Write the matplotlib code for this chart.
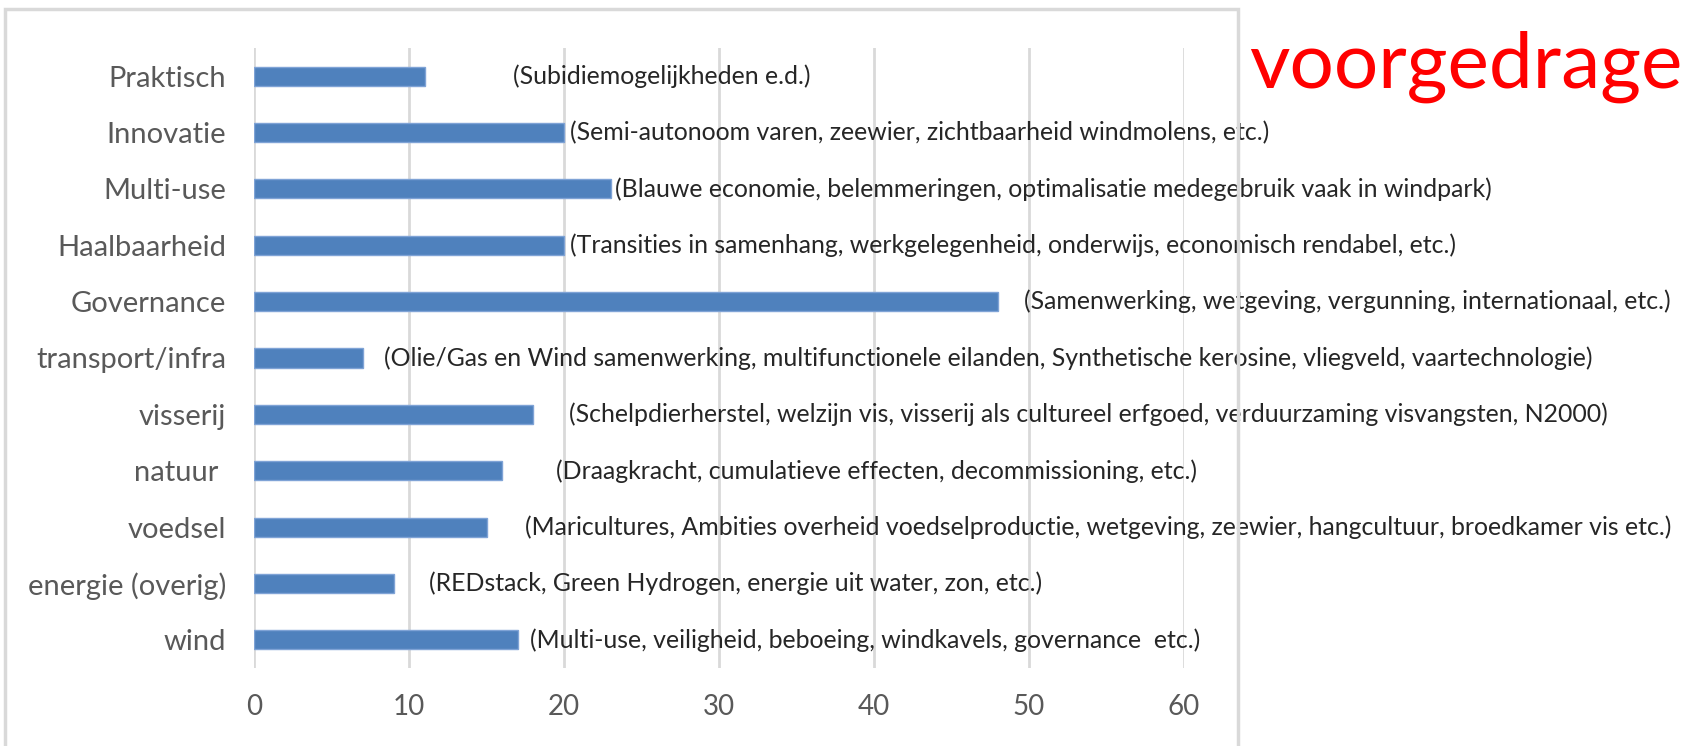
import matplotlib.pyplot as plt
from matplotlib.patches import Rectangle

plt.rcParams['font.family'] = ['Lato', 'DejaVu Sans']

# categorieen van boven naar beneden
categories = ['Praktisch', 'Innovatie', 'Multi-use', 'Haalbaarheid', 'Governance',
              'transport/infra', 'visserij', 'natuur ', 'voedsel', 'energie (overig)', 'wind']
values = [11, 20, 23, 20, 48, 7, 18, 16, 15, 9, 17]
notes = [
    '(Subidiemogelijkheden e.d.)',
    '(Semi-autonoom varen, zeewier, zichtbaarheid windmolens, etc.)',
    '(Blauwe economie, belemmeringen, optimalisatie medegebruik vaak in windpark)',
    '(Transities in samenhang, werkgelegenheid, onderwijs, economisch rendabel, etc.)',
    '(Samenwerking, wetgeving, vergunning, internationaal, etc.)',
    '(Olie/Gas en Wind samenwerking, multifunctionele eilanden, Synthetische kerosine, vliegveld, vaartechnologie)',
    '(Schelpdierherstel, welzijn vis, visserij als cultureel erfgoed, verduurzaming visvangsten, N2000)',
    '(Draagkracht, cumulatieve effecten, decommissioning, etc.)',
    '(Maricultures, Ambities overheid voedselproductie, wetgeving, zeewier, hangcultuur, broedkamer vis etc.)',
    '(REDstack, Green Hydrogen, energie uit water, zon, etc.)',
    '(Multi-use, veiligheid, beboeing, windkavels, governance  etc.)',
]
# afstand tekst tot einde balk (in data-eenheden)
note_gap = [5.7, 0.4, 0.3, 0.4, 1.7, 1.4, 2.3, 3.5, 2.5, 2.3, 0.8]
xticks = [0, 10, 20, 30, 40, 50, 60]

W, H = 1689, 746
fig = plt.figure(figsize=(W / 100, H / 100), dpi=100)

# grijze rand van de grafiek (onderkant valt buiten beeld)
fig.patches.append(Rectangle((5 / W, -0.05), (1238 - 5) / W, 1.05 - 9 / H,
                             transform=fig.transFigure, fill=False,
                             edgecolor='#D9D9D9', linewidth=2.5))

ax = fig.add_axes([254 / W, 1 - 668 / H, (1184 - 254) / W, (668 - 48) / H])
ypos = list(range(len(categories)))
ax.barh(ypos, values, height=0.34, color='#4F81BD', edgecolor='#7FA3D6',
        linewidth=1, zorder=3)
ax.set_ylim(len(categories) - 0.5, -0.5)
ax.set_xlim(0, 60)
ax.set_xticks(xticks)
ax.set_yticks(ypos)
ax.set_yticklabels(categories)
ax.grid(axis='x', color='#D9D9D9', linewidth=2, zorder=0)
for s in ax.spines.values():
    s.set_visible(False)
ax.tick_params(axis='both', length=0, colors='#595959')
ax.tick_params(axis='y', labelsize=21, pad=20)
ax.tick_params(axis='x', labelsize=20, pad=19)

for i, (v, t, g) in enumerate(zip(values, notes, note_gap)):
    ax.text(v + g, i, t, va='center', ha='left', fontsize=17.9,
            color='#262626', zorder=4, clip_on=False)

fig.text(1249 / W, 1 - 88 / H, 'voorgedrage', color='#FF0000', fontsize=56.5,
         ha='left', va='baseline')

fig.savefig('out.png', dpi=100)
